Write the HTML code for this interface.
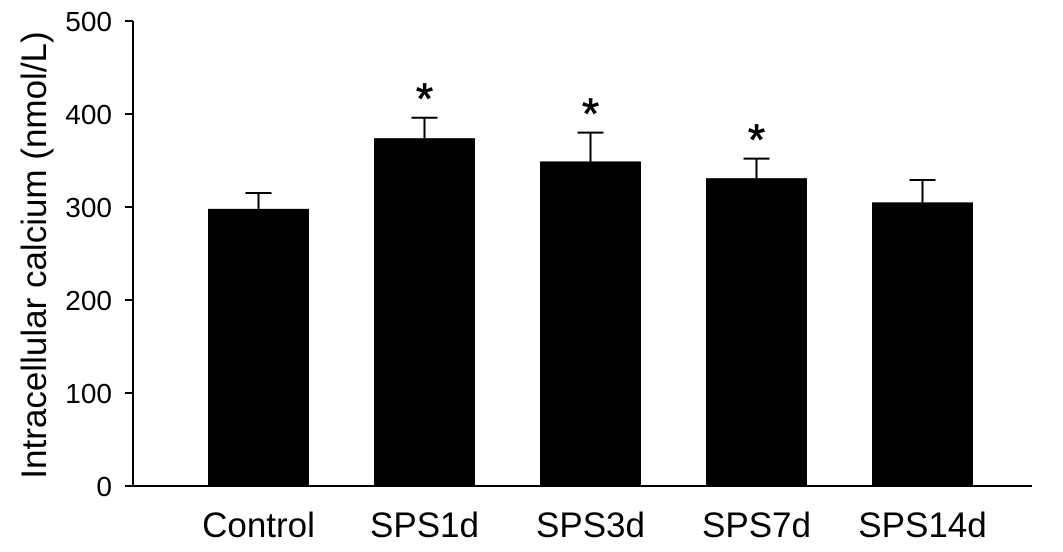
<!DOCTYPE html>
<html><head><meta charset="utf-8"><style>
html,body{margin:0;padding:0;background:#fff;}
svg{display:block;font-family:"Liberation Sans",Arial,sans-serif;}
</style></head><body>
<svg id="chart" width="1063" height="552" viewBox="0 0 1063 552">
<g id="plot"></g>
</svg>
<script>
const categories = ["Control","SPS1d","SPS3d","SPS7d","SPS14d"];
const means = [298, 374, 349, 331, 305];
const errors = [17, 22, 31, 21, 24];
const significant = [false, true, true, true, false];
const yTicks = [0,100,200,300,400,500];

const NS = "http://www.w3.org/2000/svg";
const g = document.getElementById('plot');
const y0 = 486, yTop = 21, yMax = 500;
const x0 = 133, xEnd = 1032;
const firstBar = 208, step = 166, barW = 101;
function yScale(v){ return y0 - (v/yMax)*(y0-yTop); }
function xBand(i){ return firstBar + i*step; }
function mk(tag, attrs){ const e=document.createElementNS(NS,tag); for(const k in attrs) e.setAttribute(k,attrs[k]); g.appendChild(e); return e; }

categories.forEach((c,i)=>{
  const x = xBand(i), cx = x + barW/2;
  const bar = mk('rect',{x:x,y:yScale(means[i]),width:barW,height:y0-yScale(means[i]),fill:'#000'});
  
  
  const eTop = yScale(means[i]+errors[i]);
  const ev = mk('line',{x1:cx,x2:cx,y1:yScale(means[i]),y2:eTop,stroke:'#000','stroke-width':2});
  
  
  const ec = mk('line',{x1:cx-13,x2:cx+13,y1:eTop,y2:eTop,stroke:'#000','stroke-width':2});
  
  
  if(significant[i]){
    const s = mk('text',{x:cx,y:eTop-4,'text-anchor':'middle','font-size':44,fill:'#000',stroke:'#000','stroke-width':0.8});
    s.textContent='*';
    
    
  }
  const t = mk('text',{x:cx,y:537,'text-anchor':'middle','font-size':35,fill:'#000'});
  t.textContent=c;
  
  
});

const xa = mk('line',{x1:x0-1,x2:xEnd,y1:y0,y2:y0,stroke:'#000','stroke-width':2});


const ya = mk('line',{x1:x0,x2:x0,y1:yTop,y2:y0,stroke:'#000','stroke-width':2});


yTicks.forEach(v=>{
  const tk = mk('line',{x1:125,x2:x0,y1:yScale(v),y2:yScale(v),stroke:'#000','stroke-width':2});
  
  
  const lb = mk('text',{x:112,y:yScale(v)+10,'text-anchor':'end','font-size':28,fill:'#000'});
  lb.textContent=v;
  
  
});
const yt = mk('text',{x:0,y:0,'text-anchor':'middle','font-size':35,fill:'#000',transform:'translate(46,255) rotate(-90)'});
yt.textContent='Intracellular  calcium (nmol/L)';


</script>
</body></html>
